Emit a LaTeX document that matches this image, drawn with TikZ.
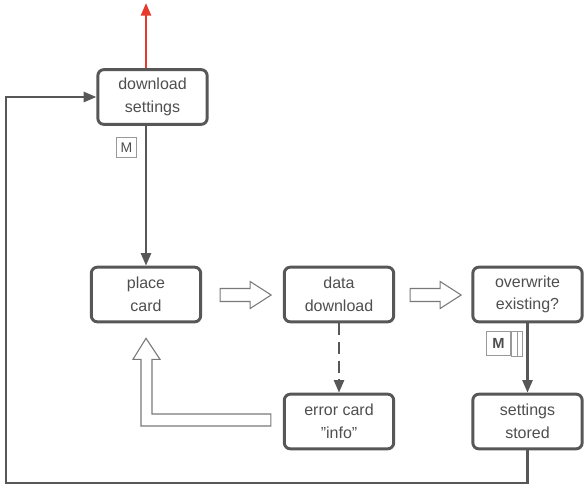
\documentclass[tikz,border=0pt]{standalone}
\usepackage{fontspec}
\setmainfont{Liberation Sans}
\usetikzlibrary{arrows.meta,calc}

\definecolor{boxgray}{HTML}{575757}
\definecolor{txtgray}{HTML}{4F4F4F}
\definecolor{outred}{HTML}{E53A2C}

\begin{document}
\begin{tikzpicture}[
  x=0.75pt, y=-0.75pt,
  >={Triangle[length=9.5pt,width=7.5pt]},
  font=\fontsize{12}{17}\selectfont, text=txtgray,
  stage/.style={rectangle,draw=boxgray,line width=2.2pt,rounded corners=4.5pt,
    minimum width=82pt,minimum height=41pt,align=center,fill=white,inner sep=2pt},
  conn/.style={->,draw=boxgray,line width=1.9pt},
  hollow/.style={draw=gray!95!black,line width=0.8pt,fill=white},
  badge/.style={rectangle,draw=gray!80,line width=0.7pt,minimum size=15.5pt,
    inner sep=0pt,font=\fontsize{10.5}{12}\selectfont},
]
\useasboundingbox (0,0) rectangle (584,486);

% ===== stages =====
\node[stage] (dl)    at (152.5,97)   {download\\settings};
\node[stage] (place) at (146,294.5)  {place\\card};
\node[stage] (data)  at (339,294.5)  {data\\download};
\node[stage] (over)  at (527.5,294.5){overwrite\\existing?};
\node[stage] (err)   at (339,421.5)  {error card\\”info”};
\node[stage] (store) at (527.5,421.5){settings\\stored};

% ===== badges =====
\node[badge] (m1) at (126.5,147.5) {M};
\node[badge,minimum width=18.5pt,minimum height=18pt,
  font=\fontsize{11}{12}\selectfont\bfseries] (m2) at (498.5,343.5) {M};
\draw[draw=gray!80,line width=0.7pt] (m2.north east) rectangle ($(m2.south east)+(11,0)$);
\draw[draw=gray!80,line width=0.7pt] ($(m2.north east)+(6,0)$) -- ($(m2.south east)+(6,0)$);

% ===== connectors =====
\coordinate (out)  at (146,3);
\coordinate (loop) at (6,483);
\draw[->,draw=outred,line width=1.9pt] (dl.north -| out) -- (out);
\draw[conn] (dl.south -| place.north) -- (place.north);
\draw[conn,dashed,dash pattern=on 9pt off 5pt] (data.south) -- (err.north);
\draw[conn] (over.south) -- (store.north);
\draw[conn] (store.south) |- (loop) |- (dl.west);

% ===== hollow arrows =====
\draw[hollow] ($(place.east)+(18,-6)$) -- ++(30,0) -- ++(0,-7) -- ++(21,13.5)
  -- ++(-21,13.5) -- ++(0,-7) -- ++(-30,0) -- cycle;
\draw[hollow] ($(data.east)+(15,-6)$) -- ++(30,0) -- ++(0,-7) -- ++(21,13.5)
  -- ++(-21,13.5) -- ++(0,-7) -- ++(-30,0) -- cycle;
\draw[hollow] ($(err.west)+(-12,-7.5)$) -| ($(place.south)+(6,36)$) -- ++(8,0)
  -- ($(place.south)+(0,15)$) -- ($(place.south)+(-13,36)$) -- ++(8,0)
  |- ($(err.west)+(-12,4.5)$) -- cycle;
\end{tikzpicture}
\end{document}
